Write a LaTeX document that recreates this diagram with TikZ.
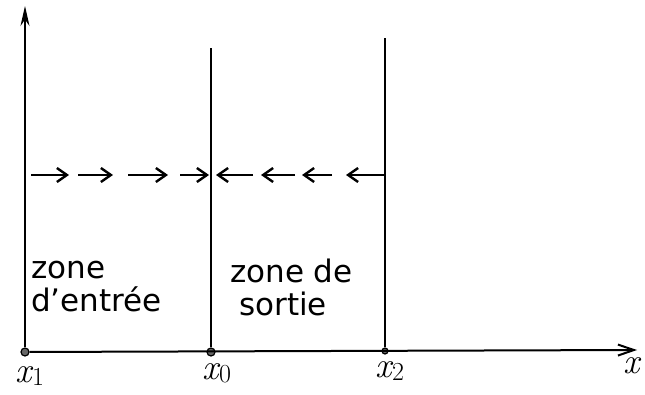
\documentclass[tikz,border=0pt]{standalone}
\usepackage{fontspec}
\setsansfont{DejaVu Sans}
\usetikzlibrary{arrows.meta}
\newcommand{\axlab}[1]{{\fontsize{36}{38}\selectfont\itshape x}\raisebox{-0.3em}{\fontsize{26}{28}\selectfont #1}}
\begin{document}
\begin{tikzpicture}[x=1pt,y=-1pt,
  axis/.style={line width=2pt},
  wall/.style={line width=1.8pt},
  flow/.style={line width=2.2pt,-{Straight Barb[length=10pt,width=14pt,line width=2.4pt]}},
  dot/.style={circle,draw,line width=1.2pt,fill=black!60,inner sep=0pt,minimum size=8pt},
  zlabel/.style={font=\sffamily\fontsize{31}{33}\selectfont,align=left,inner sep=0pt},
  xlabel/.style={inner sep=0pt}]
\useasboundingbox (0,0) rectangle (645,395);
% points
\node[dot] (p1) at (25,352) {};
\node[dot] (p0) at (211,352) {};
\node[dot,minimum size=6pt] (p2) at (385,351) {};
\coordinate (xend) at (637,350);
\coordinate (yend) at (25,6);
\coordinate (t0) at (211,48);
\coordinate (t2) at (385,38);
% axes
\draw[axis,-{Straight Barb[length=16pt,width=11pt]}] (p1) -- (xend);
\draw[axis,-{Stealth[length=20pt,width=9pt]}] (p1) -- (yend);
\draw[wall] (p0) -- (t0);
\draw[wall] (p2) -- (t2);
% flow arrows
\coordinate (a1) at (31,175); \coordinate (b1) at (69,175);
\coordinate (a2) at (78,175); \coordinate (b2) at (113,175);
\coordinate (a3) at (128,175); \coordinate (b3) at (168,175);
\coordinate (a4) at (180,175); \coordinate (b4) at (209,175);
\coordinate (c1) at (253,175); \coordinate (d1) at (216,175);
\coordinate (c2) at (295,175); \coordinate (d2) at (261,175);
\coordinate (c3) at (332,175); \coordinate (d3) at (302,175);
\coordinate (c4) at (385,175); \coordinate (d4) at (346,175);
\foreach \i in {1,...,4} {
  \draw[flow] (a\i) -- (b\i);
  \draw[flow] (c\i) -- (d\i);
}
% zone labels
\node[zlabel,anchor=west] (ze) at (31,287) {zone\\d'entrée};
\node[zlabel,anchor=west] (zs) at (230,287) {zone de\\\hspace*{9pt}sortie};
% axis labels
\node[xlabel] (l1) at (30,376) {\axlab{1}};
\node[xlabel] (l0) at (217,373) {\axlab{0}};
\node[xlabel] (l2) at (390,371) {\axlab{2}};
\node[xlabel] (lx) at (632,366) {\fontsize{36}{38}\selectfont\itshape x};
\end{tikzpicture}
\end{document}
